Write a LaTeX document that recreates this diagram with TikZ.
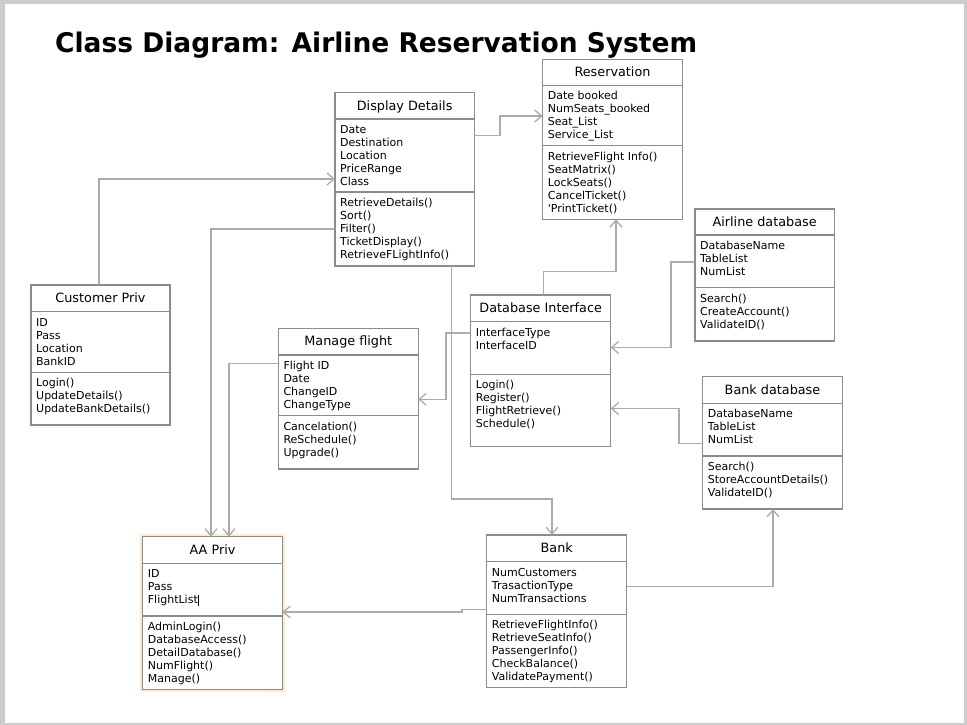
\documentclass[tikz,border=0pt]{standalone}
\usepackage{fontspec}
\setmainfont{DejaVu Sans}
\usetikzlibrary{arrows.meta}
\definecolor{boxline}{HTML}{8C8C8C}
\definecolor{connline}{HTML}{ABABAB}
\definecolor{pageframe}{HTML}{CCCCCC}
\definecolor{glow}{HTML}{FCEBD2}
\tikzset{
  classbox/.style={draw=boxline, line width=1.1pt, fill=white, inner sep=0pt, outer sep=0pt},
  sepline/.style={draw=boxline, line width=1.1pt},
  titletext/.style={anchor=base, inner sep=0pt, font=\fontsize{12.8}{15}\selectfont},
  itemtext/.style={anchor=base west, inner sep=0pt, font=\fontsize{11}{13}\selectfont},
  conn/.style={draw=connline, line width=1.3pt, -{Straight Barb[length=7pt,width=12pt]}},
}
\newcommand{\umlclass}[8]{%
  \node[classbox, minimum width={#4-#2}, minimum height={#7-#3}, anchor=north west] (#1) at (#2,#3) {};
  \draw[sepline] (#1.west |- 0,#5) -- (#1.east |- 0,#5);
  \draw[sepline] (#1.west |- 0,#6) -- (#1.east |- 0,#6);
  \node[titletext] (#1-title) at ({(#2+#4)/2},{#3+17.5}) {#8};
}
\newcommand{\umlitems}[4]{%
  \foreach \itm [count=\i] in {#4} {
    \node[itemtext] (#1\i) at ({#2+5},{#3+14.5+13*(\i-1)}) {\itm};
  }
}
\begin{document}
\begin{tikzpicture}[x=1pt, y=-1pt]
\useasboundingbox (0,0) rectangle (967,725);
\fill[pageframe] (0,0) rectangle (967,725);
\fill[white] (4.5,4) rectangle (964,723);

% title
\node[anchor=base west, inner sep=0pt] (title) at (55,52.3)
  {\resizebox{642pt}{\height}{\fontsize{27}{30}\selectfont\bfseries Class Diagram: Airline Reservation System}};

% Display Details
\umlclass{dd}{335}{92.7}{474.3}{119}{192}{266}{Display Details}
\umlitems{dd-a}{335}{119}{Date, Destination, Location, PriceRange, Class}
\umlitems{dd-m}{335}{192}{RetrieveDetails(), Sort(), Filter(), TicketDisplay(), RetrieveFLightInfo()}

% Reservation
\umlclass{res}{542.7}{59.3}{682.3}{85.3}{145.7}{219.3}{Reservation}
\umlitems{res-a}{542.7}{85.3}{Date booked, NumSeats\_booked, Seat\_List, Service\_List}
\umlitems{res-m}{542.7}{145.7}{RetrieveFlight Info(), SeatMatrix(), LockSeats(), CancelTicket(), \textquotesingle PrintTicket()}

% Customer Priv
\umlclass{cp}{31}{285}{170}{311.7}{372.3}{425}{Customer Priv}
\umlitems{cp-a}{31}{311.7}{ID, Pass, Location, BankID}
\umlitems{cp-m}{31}{372.3}{Login(), UpdateDetails(), UpdateBankDetails()}

% Manage flight
\umlclass{mf}{278.3}{328.3}{418.3}{355}{415.7}{469}{Manage flight}
\umlitems{mf-a}{278.3}{355}{Flight ID, Date, ChangeID, ChangeType}
\umlitems{mf-m}{278.3}{415.7}{Cancelation(), ReSchedule(), Upgrade()}

% Database Interface
\umlclass{di}{470.7}{295}{610.7}{321.7}{374.3}{446.7}{Database Interface}
\umlitems{di-a}{470.7}{321.7}{InterfaceType, InterfaceID}
\umlitems{di-m}{470.7}{374.3}{Login(), Register(), FlightRetrieve(), Schedule()}

% Airline database
\umlclass{ad}{695}{209}{834.3}{235}{287.7}{341}{Airline database}
\umlitems{ad-a}{695}{235}{DatabaseName, TableList, NumList}
\umlitems{ad-m}{695}{287.7}{Search(), CreateAccount(), ValidateID()}

% Bank database
\umlclass{bd}{702.7}{376.7}{842.3}{403.3}{456}{509}{Bank database}
\umlitems{bd-a}{702.7}{403.3}{DatabaseName, TableList, NumList}
\umlitems{bd-m}{702.7}{456}{Search(), StoreAccountDetails(), ValidateID()}

% AA Priv (selected, with glow)
\draw[glow, line width=5pt] (142.7,536.7) rectangle (282.3,689.3);
\umlclass{aa}{142.7}{536.7}{282.3}{563.3}{616}{689.3}{AA Priv}
\umlitems{aa-a}{142.7}{563.3}{ID, Pass, FlightList\rule[-2.5pt]{0.6pt}{11.5pt}}
\umlitems{aa-m}{142.7}{616}{AdminLogin(), DatabaseAccess(), DetailDatabase(), NumFlight(), Manage()}

% Bank
\umlclass{bk}{486.7}{535}{626.7}{561.7}{614.3}{687.3}{Bank}
\umlitems{bk-a}{486.7}{561.7}{NumCustomers, TrasactionType, NumTransactions}
\umlitems{bk-m}{486.7}{614.3}{RetrieveFlightInfo(), RetrieveSeatInfo(), PassengerInfo(), CheckBalance(), ValidatePayment()}

% connectors
\draw[conn] (dd.east |- 0,135.7) -- (500,135.7) -- (500,116) -- (res.west |- 0,116);
\draw[conn] (cp.north -| 99,0) -- (99,179) -- (dd.west |- 0,179);
\draw[conn] (dd.west |- 0,229) -- (211,229) -- (aa.north -| 211,0);
\draw[conn] (mf.west |- 0,363.7) -- (229,363.7) -- (aa.north -| 229,0);
\draw[conn] (dd.south -| 451.5,0) -- (451.5,499) -- (552,499) -- (bk.north -| 552,0);
\draw[conn] (di.north -| 543.3,0) -- (543.3,271.7) -- (616,271.7) -- (res.south -| 616,0);
\draw[conn] (di.west |- 0,333) -- (446,333) -- (446,399.3) -- (mf.east |- 0,399.3);
\draw[conn] (ad.west |- 0,262) -- (671,262) -- (671,347.5) -- (di.east |- 0,347.5);
\draw[conn] (bd.west |- 0,443.5) -- (679,443.5) -- (679,408.5) -- (di.east |- 0,408.5);
\draw[conn] (bk.east |- 0,586.7) -- (773,586.7) -- (bd.south -| 773,0);
\draw[conn] (bk.west |- 0,609.5) -- (462,609.5) -- (462,612) -- (aa.east |- 0,612);
\end{tikzpicture}
\end{document}
